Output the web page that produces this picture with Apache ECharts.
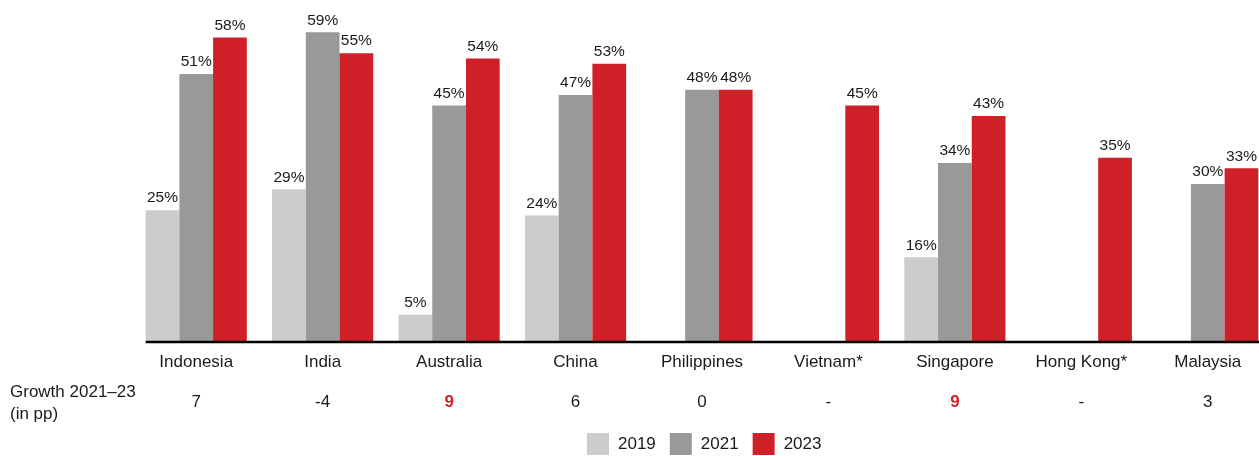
<!DOCTYPE html>
<html>
<head>
<meta charset="utf-8">
<script src="https://cdn.jsdelivr.net/npm/echarts@6/dist/echarts.min.js"></script>
<style>
  html, body { margin: 0; padding: 0; background: #fff; }
  #chart { width: 1259px; height: 456px; }
</style>
</head>
<body>
<div id="chart"></div>
<script>
var categories = ["Indonesia", "India", "Australia", "China", "Philippines", "Vietnam*", "Singapore", "Hong Kong*", "Malaysia"];
var values2019 = [25, 29, 5, 24, null, null, 16, null, null];
var values2021 = [51, 59, 45, 47, 48, null, 34, null, 30];
var values2023 = [58, 55, 54, 53, 48, 45, 43, 35, 33];
var growth = ["7", "-4", "9", "6", "0", "-", "9", "-", "3"];
var growthHighlight = [false, false, true, false, false, false, true, false, false];

var font = "Liberation Sans, Arial, sans-serif";
var chart = echarts.init(document.getElementById("chart"));

function barSeries(name, data, color) {
  return {
    name: name,
    type: "bar",
    data: data,
    barGap: "0%",
    barCategoryGap: "20%",
    itemStyle: { color: color },
    label: {
      show: true,
      position: "top",
      distance: 4,
      color: "#1a1a1a",
      fontSize: 15.5,
      fontFamily: font,
      formatter: function (p) { return p.value == null ? "" : p.value + "%"; }
    }
  };
}

var growthTitle = {
  type: "text",
  left: 10,
  top: 381,
  style: {
    text: "Growth 2021\u201323\n(in pp)",
    fontSize: 17,
    fontFamily: font,
    fill: "#1a1a1a",
    lineHeight: 22
  }
};

var option = {
  animation: false,
  grid: { left: 133, width: 1138, top: 27, height: 314, outerBoundsMode: "none", containLabel: false },
  legend: {
    left: 582,
    top: 428,
    icon: "rect",
    itemWidth: 22,
    itemHeight: 22,
    itemGap: 14,
    textStyle: { fontSize: 17, fontFamily: font, color: "#1a1a1a", padding: [0, 0, 0, 4] },
    data: ["2019", "2021", "2023"]
  },
  xAxis: [{
    type: "category",
    data: categories,
    axisLine: { show: false },
    axisTick: { show: false },
    axisLabel: { fontSize: 17, fontFamily: font, color: "#1a1a1a", margin: 13, interval: 0 }
  }, {
    type: "category",
    position: "bottom",
    offset: 40,
    data: growth,
    axisLine: { show: false },
    axisTick: { show: false },
    axisLabel: {
      interval: 0,
      margin: 13,
      formatter: function (v, i) {
        return growthHighlight[i] ? "{hi|" + v + "}" : "{n|" + v + "}";
      },
      rich: {
        n: { fontSize: 17, fontFamily: font, color: "#1a1a1a" },
        hi: { fontSize: 17, fontFamily: font, color: "#cf2027", fontWeight: "bold" }
      }
    }
  }],
  yAxis: {
    type: "value",
    min: 0,
    max: 60,
    show: false,
    splitLine: { show: false }
  },
  graphic: [growthTitle],
  series: [
    barSeries("2019", values2019, "#cccccc"),
    barSeries("2021", values2021, "#999999"),
    barSeries("2023", values2023, "#cf2027")
  ]
};

chart.setOption(option);

// base line starting at the first bar's left edge
var band = 1138 / categories.length;
var x0 = chart.convertToPixel({ xAxisIndex: 0 }, categories[0]) - band * 0.4;
var y0 = chart.convertToPixel({ yAxisIndex: 0 }, 0);
chart.setOption({
  graphic: [growthTitle, {
    type: "line",
    shape: { x1: x0, y1: y0 + 1, x2: 1259, y2: y0 + 1 },
    style: { stroke: "#000", lineWidth: 2.5 },
    z: 10
  }]
});
</script>
</body>
</html>
